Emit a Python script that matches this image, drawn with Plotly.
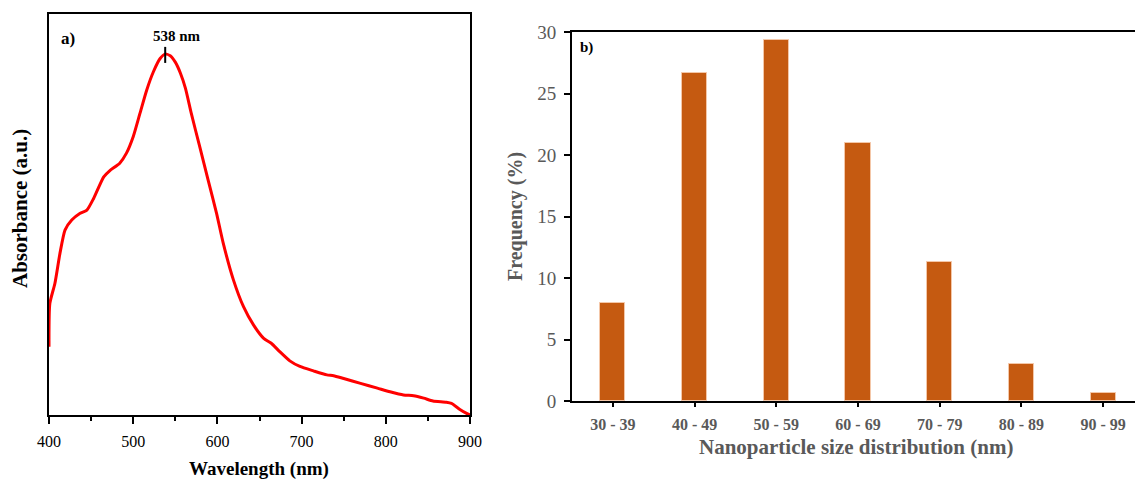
import plotly.graph_objects as go

W, H = 1135, 479

# UV-Vis absorbance spectrum (arbitrary units)
wavelength = [400, 401, 407, 413, 419, 427, 437, 445, 453, 465, 472, 484, 492, 500,
              508, 516, 524, 532, 538, 544, 550, 556, 562, 569, 579, 589, 599, 607, 619,
              631, 643, 655, 664, 674, 686, 698, 714, 730, 738, 750, 770, 790, 805,
              821, 833, 845, 856, 872, 878, 888, 896, 900]
absorbance = [0.170, 0.278, 0.328, 0.403, 0.461, 0.486, 0.503, 0.511, 0.540, 0.594,
              0.609, 0.628, 0.653, 0.694, 0.752, 0.810, 0.856, 0.889, 0.900, 0.896,
              0.880, 0.853, 0.815, 0.752, 0.669, 0.586, 0.503, 0.428, 0.337, 0.270, 0.224,
              0.191, 0.179, 0.158, 0.135, 0.121, 0.110, 0.100, 0.098, 0.091, 0.079,
              0.067, 0.058, 0.050, 0.048, 0.042, 0.035, 0.032, 0.029, 0.014, 0.004,
              0.000]
peak_nm = 538
peak_abs = 0.900

# Particle size histogram
size_bins = ["30 - 39", "40 - 49", "50 - 59", "60 - 69", "70 - 79", "80 - 89", "90 - 99"]
frequency = [8.0, 26.67, 29.33, 21.0, 11.33, 3.0, 0.67]

FONT = "Liberation Serif"
GRAY = "#595959"


def px_x(p):
    return p / W


def px_y(p):
    return 1 - p / H


fig = go.Figure()

fig.add_trace(go.Scatter(
    x=wavelength, y=absorbance, mode="lines",
    line=dict(color="#FF0000", width=3, shape="spline", smoothing=0.6),
    xaxis="x", yaxis="y", showlegend=False, hoverinfo="x+y",
))

fig.add_trace(go.Bar(
    x=size_bins, y=frequency, width=0.306,
    marker=dict(color="#C55A11", line=dict(color="#F4C7A8", width=1)),
    xaxis="x2", yaxis="y2", showlegend=False,
))

# peak marker
fig.add_shape(type="line", xref="x", yref="y",
              x0=peak_nm, x1=peak_nm, y0=peak_abs - 0.022, y1=peak_abs + 0.018,
              line=dict(color="black", width=2))

annotations = [
    dict(text="<b>%d nm</b>" % peak_nm, x=peak_nm, y=peak_abs + 0.045, xref="x", yref="y",
         xshift=12, showarrow=False, font=dict(family=FONT, size=15, color="black"),
         yanchor="middle"),
    dict(text="<b>a)</b>", x=px_x(59), y=px_y(38), xref="paper", yref="paper",
         xanchor="left", yanchor="middle", showarrow=False,
         font=dict(family=FONT, size=17, color="black")),
    dict(text="<b>b)</b>", x=px_x(578), y=px_y(47), xref="paper", yref="paper",
         xanchor="left", yanchor="middle", showarrow=False,
         font=dict(family=FONT, size=15, color="black")),
    dict(text="<b>Absorbance (a.u.)</b>", x=px_x(20), y=px_y(209), xref="paper", yref="paper",
         textangle=-90, showarrow=False, xanchor="center", yanchor="middle",
         font=dict(family=FONT, size=21, color="black")),
    dict(text="<b>Wavelength (nm)</b>", x=px_x(259), y=px_y(469), xref="paper", yref="paper",
         showarrow=False, xanchor="center", yanchor="middle",
         font=dict(family=FONT, size=19, color="black")),
    dict(text="<b>Frequency (%)</b>", x=px_x(516), y=px_y(217), xref="paper", yref="paper",
         textangle=-90, showarrow=False, xanchor="center", yanchor="middle",
         font=dict(family=FONT, size=20, color=GRAY)),
    dict(text="<b>Nanoparticle size distribution (nm)</b>", x=px_x(856), y=px_y(447),
         xref="paper", yref="paper", showarrow=False, xanchor="center", yanchor="middle",
         font=dict(family=FONT, size=21, color=GRAY)),
]

fig.update_layout(
    width=W, height=H,
    margin=dict(l=0, r=0, t=0, b=0, pad=0, autoexpand=False),
    paper_bgcolor="white", plot_bgcolor="white",
    annotations=annotations,
    bargap=0,
    xaxis=dict(
        domain=[px_x(49), px_x(470)], range=[400, 900], anchor="y", automargin=False,
        tickvals=[400, 500, 600, 700, 800, 900],
        ticks="outside", ticklen=7, tickwidth=2, tickcolor="black",
        minor=dict(tickvals=[450, 550, 650, 750, 850], ticks="outside", ticklen=4,
                   tickwidth=2, tickcolor="black"),
        showline=True, linecolor="black", linewidth=2, mirror=True,
        showgrid=False, zeroline=False,
        tickfont=dict(family=FONT, size=16, color="black"),
        tickprefix="<b>", ticksuffix="</b>",
        ticklabelstandoff=4,
    ),
    yaxis=dict(
        domain=[px_y(415), px_y(14)], range=[0, 1.0], anchor="x", automargin=False,
        showticklabels=False, ticks="",
        showline=True, linecolor="black", linewidth=2, mirror=True,
        showgrid=False, zeroline=False,
    ),
    xaxis2=dict(
        domain=[px_x(572), 1.0], range=[-0.5, 6.39], anchor="y2", type="category",
        automargin=False,
        ticks="outside", ticklen=4, tickwidth=2, tickcolor="black",
        showline=True, linecolor="black", linewidth=2, mirror=True,
        showgrid=False, zeroline=False,
        tickfont=dict(family=FONT, size=16, color=GRAY),
        tickprefix="<b>", ticksuffix="</b>",
        ticklabelstandoff=4,
    ),
    yaxis2=dict(
        domain=[px_y(401), px_y(32)], range=[0, 30], anchor="x2", automargin=False,
        tickvals=[0, 5, 10, 15, 20, 25, 30],
        ticks="outside", ticklen=6, tickwidth=2, tickcolor="black",
        showline=True, linecolor="black", linewidth=2, mirror=False,
        showgrid=False, zeroline=False,
        tickfont=dict(family=FONT, size=19, color=GRAY),
        tickprefix="<b>", ticksuffix="</b>",
        ticklabelstandoff=4,
    ),
)

fig.write_html("out.html")
